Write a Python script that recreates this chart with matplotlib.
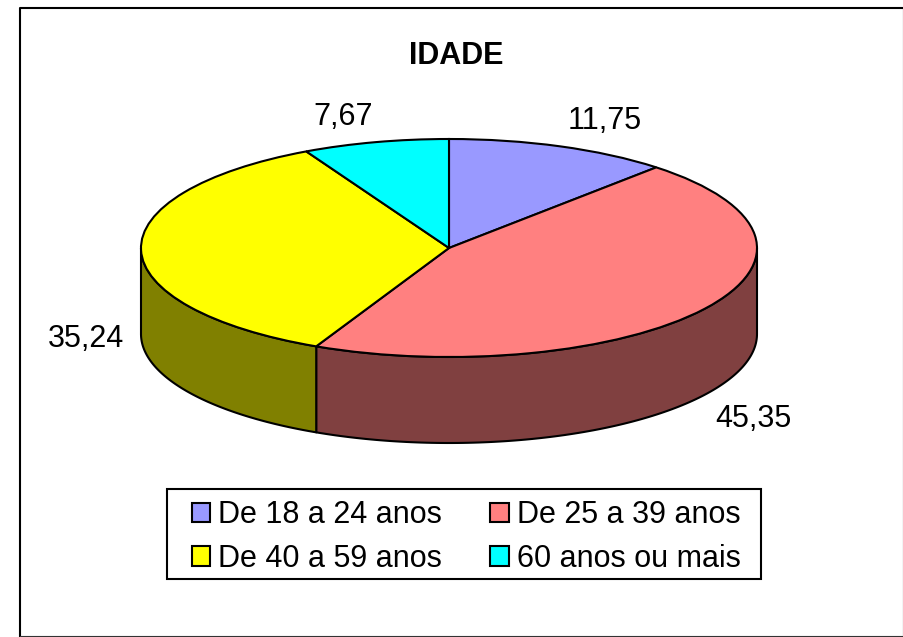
#!/usr/bin/env python3
# IDADE - fake 3D pie, pie flattened by the axes limits, sides drawn under it

import numpy as np
import matplotlib
matplotlib.use("Agg")
import matplotlib.pyplot as plt
from matplotlib.lines import Line2D
from matplotlib.patches import Rectangle

plt.rcParams['font.family'] = ['Liberation Sans', 'DejaVu Sans']

W, H = 904, 637
CX, CY = 449, 248
RX, RY = 308, 109
DEPTH = 86 / RY

categories = ["De 18 a 24 anos", "De 25 a 39 anos", "De 40 a 59 anos", "60 anos ou mais"]
values = [11.75, 45.35, 35.24, 7.67]
value_labels = ["11,75", "45,35", "35,24", "7,67"]
top_colors = ["#9999FF", "#FF8080", "#FFFF00", "#00FFFF"]
side_colors = ["#4D4D80", "#804040", "#808000", "#008080"]
label_pos = [(605, 121), (753, 419), (86, 339), (343, 117)]

FS = 22
LW = 1.5

def fx(x):
  return x / W

def fy(y):
  return 1 - y / H

fig = plt.figure(figsize=(W / 100, H / 100), dpi=100, facecolor="white")
ax = fig.add_axes([0, 0, 1, 1])

wedges, _ = ax.pie(values, colors=top_colors, startangle=90, counterclock=False,
                   wedgeprops=dict(edgecolor="black", linewidth=LW, zorder=3))
ax.set_aspect("auto")
ax.set_xlim((0 - CX) / RX, (W - CX) / RX)
ax.set_ylim((CY - H) / RY, (CY - 0) / RY)
ax.axis("off")

# sides: only the part of each slice that faces the front (below the centre)
ends = 90 - 360 * np.cumsum(values) / np.sum(values)
starts = np.concatenate(([90], ends[:-1]))
for a0, a1, col in zip(starts, ends, side_colors):
  hi = min(a0, 0)
  lo = max(a1, -180)
  if hi <= lo:
    continue
  t = np.radians(np.linspace(hi, lo, 120))
  xs = np.cos(t)
  ys = np.sin(t)
  ax.fill(np.concatenate((xs, xs[::-1])), np.concatenate((ys, ys[::-1] - DEPTH)),
          facecolor=col, edgecolor="black", linewidth=LW, zorder=2, joinstyle="round")

for lab, (px, py) in zip(value_labels, label_pos):
  fig.text(fx(px), fy(py), lab, fontsize=FS, ha="center", va="center", color="black")

fig.text(fx(456), fy(56), "IDADE", fontsize=FS, fontweight="bold", ha="center", va="center")

# legend box drawn apart so its padding can differ from the entry layout
fig.add_artist(Rectangle((fx(167), fy(579)), (761 - 167) / W, (579 - 489) / H, transform=fig.transFigure,
                         facecolor="white", edgecolor="black", linewidth=LW))

# legend fills by column, so swap to keep the reference reading order
order = [0, 2, 1, 3]
leg = fig.legend([wedges[i] for i in order], [categories[i] for i in order], ncol=2,
                 loc="upper left", bbox_to_anchor=(fx(192), fy(500)), borderaxespad=0,
                 fontsize=FS, frameon=False,
                 handlelength=0.6, handleheight=0.6, handletextpad=0.26,
                 columnspacing=1.58, borderpad=0, labelspacing=0.45)

# outer frame: top and left heavier than right and bottom
fig.add_artist(Line2D([fx(20), fx(20), fx(903)], [fy(636), fy(8), fy(8)], color="black", linewidth=1.5))
fig.add_artist(Line2D([fx(20), fx(903), fx(903)], [fy(636), fy(636), fy(8)], color="#333333", linewidth=0.8))

fig.savefig("out.png", dpi=100)
